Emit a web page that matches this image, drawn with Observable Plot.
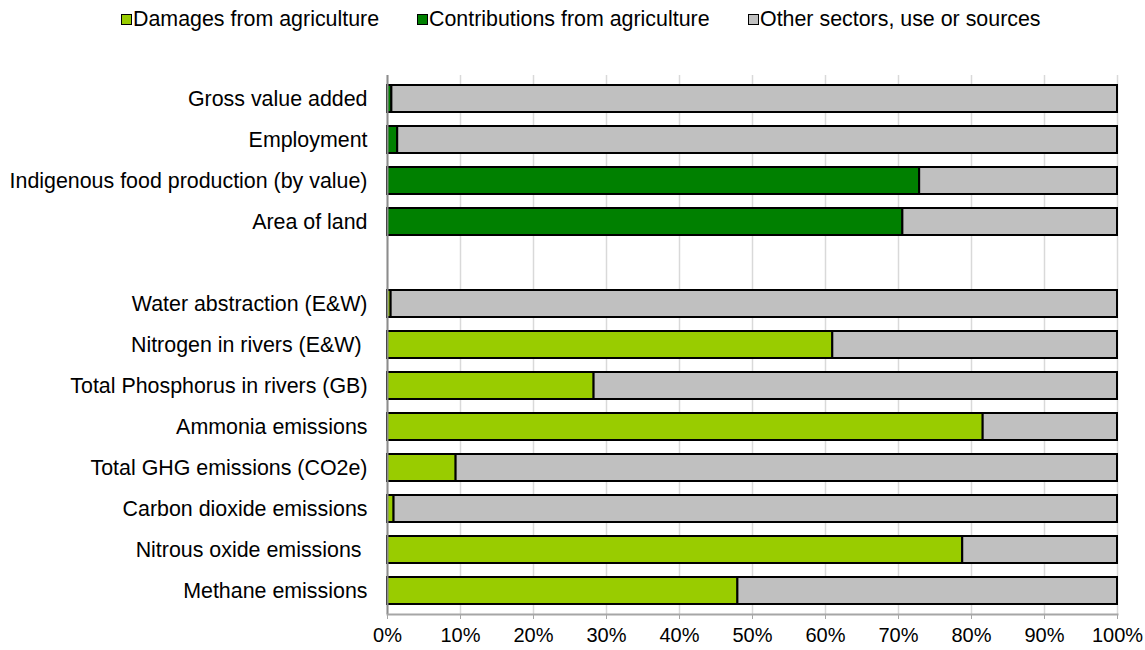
<!DOCTYPE html>
<html>
<head>
<meta charset="utf-8">
<script src="https://cdn.jsdelivr.net/npm/d3@7"></script>
<script src="https://cdn.jsdelivr.net/npm/@observablehq/plot@0.6"></script>
<style>
  html, body { margin: 0; padding: 0; background: #fff; }
  body { width: 1145px; height: 650px; overflow: hidden; font-family: "Liberation Sans", Arial, sans-serif; }
  #legend { position: relative; height: 40px; width: 1145px; }
  .item { position: absolute; top: 7px; display: flex; align-items: center; font-size: 21.4px; color: #000; line-height: 24px; white-space: nowrap; }
  .sw { width: 9px; height: 9px; border: 1.5px solid #000; margin-right: 1px; }
</style>
</head>
<body>
<div id="legend"></div>
<div id="chart"></div>
<script>
const categories = [
  "Gross value added",
  "Employment",
  "Indigenous food production (by value)",
  "Area of land",
  "",
  "Water abstraction (E&W)",
  "Nitrogen in rivers (E&W)\u00a0",
  "Total Phosphorus in rivers (GB)",
  "Ammonia emissions",
  "Total GHG emissions (CO2e)",
  "Carbon dioxide emissions",
  "Nitrous oxide emissions\u00a0",
  "Methane emissions"
];
const damages       = [0, 0, 0, 0, 0, 0.5, 61.0, 28.3, 81.6, 9.4, 0.9, 78.8, 48.0];
const contributions = [0.6, 1.4, 72.9, 70.6, 0, 0, 0, 0, 0, 0, 0, 0, 0];
const present       = [1, 1, 1, 1, 0, 1, 1, 1, 1, 1, 1, 1, 1];
const seriesNames = ["Damages from agriculture", "Contributions from agriculture", "Other sectors, use or sources"];
const seriesColors = ["#99CC00", "#008000", "#C0C0C0"];
const xTicks = [0, 10, 20, 30, 40, 50, 60, 70, 80, 90, 100];

// legend
const legendLeft = [121, 417, 748];
const legend = document.getElementById("legend");
seriesNames.forEach((name, i) => {
  const it = document.createElement("div");
  it.className = "item";
  it.style.left = legendLeft[i] + "px";
  const sw = document.createElement("span");
  sw.className = "sw";
  sw.style.background = seriesColors[i];
  it.appendChild(sw);
  const t = document.createElement("span");
  t.textContent = name;
  it.appendChild(t);
  legend.appendChild(it);
});

const rows = [];
categories.forEach((c, i) => {
  if (!present[i]) return;
  const agri = damages[i] + contributions[i];
  if (damages[i] > 0) rows.push({cat: c, series: seriesNames[0], value: damages[i]});
  if (contributions[i] > 0) rows.push({cat: c, series: seriesNames[1], value: contributions[i]});
  rows.push({cat: c, series: seriesNames[2], value: 100 - agri});
});

const chart = Plot.plot({
  width: 1145,
  height: 610,
  marginTop: 35,
  marginBottom: 36,
  marginLeft: 387,
  marginRight: 28,
  style: {fontFamily: "'Liberation Sans', Arial, sans-serif", fontSize: "21.4px", background: "#fff", color: "#000"},
  x: {domain: [0, 100], label: null},
  y: {domain: categories, paddingInner: 0.33, paddingOuter: 0.14, label: null},
  color: {domain: seriesNames, range: seriesColors},
  marks: [
    Plot.gridX(xTicks, {stroke: "#d9d9d9", strokeOpacity: 1, strokeWidth: 1.5}),
    Plot.barX(rows, Plot.stackX({x: "value", y: "cat", fill: "series", stroke: "#000", strokeWidth: 2, order: null})),
    Plot.ruleX([0], {stroke: "#8c8c8c", strokeWidth: 2}),
    Plot.frame({anchor: "bottom", stroke: "#a6a6a6", strokeWidth: 2}),
    Plot.axisX({ticks: xTicks, tickFormat: d => d + "%", tickSize: 5, tickPadding: 8, stroke: "#a6a6a6", fill: "#000", fontSize: 20, label: null}),
    Plot.axisY({tickSize: 0, tickPadding: 20, fontSize: 21.4, fill: "#000", label: null})
  ]
});
document.getElementById("chart").appendChild(chart);
</script>
</body>
</html>
